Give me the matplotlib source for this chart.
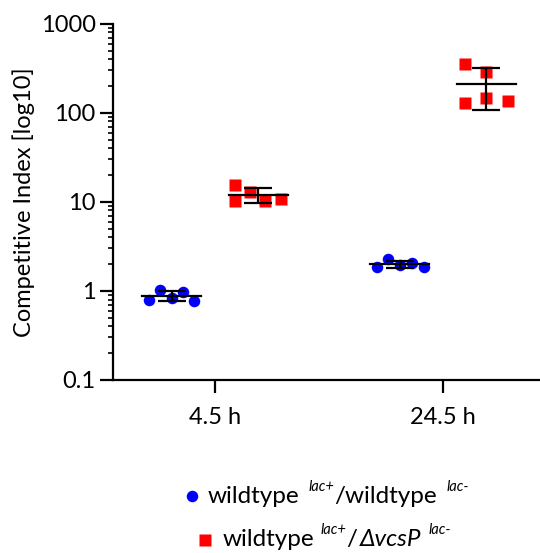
import matplotlib
matplotlib.use("Agg")
import matplotlib.pyplot as plt
import numpy as np
from matplotlib.lines import Line2D

plt.rcParams['font.family'] = ['Lato', 'DejaVu Sans']

# ---- data ----
categories = ["4.5 h", "24.5 h"]
wt_wt = [
    [0.79, 1.03, 0.83, 0.97, 0.77],
    [1.86, 2.29, 1.96, 2.06, 1.86],
]
wt_vcsp = [
    [15.5, 10.3, 13.0, 10.3, 10.8],
    [355, 130, 289, 147, 137],
]
ytick_vals = [0.1, 1, 10, 100, 1000]
ytick_labels = ["0.1", "1", "10", "100", "1000"]
# legend pieces: (text, is_superscript, italic)
legend_wt = [("wildtype", False, False), ("lac+", True, True), ("/wildtype", False, False),
             ("lac-", True, True)]
legend_vc = [("wildtype", False, False), ("lac+", True, True), ("/", False, False),
             ("\u0394vcsP", False, True), ("lac-", True, True)]

# ---- layout / style ----
group_off = 0.19
jitter_wt = [[-0.10, -0.05, 0.0, 0.05, 0.10], [-0.10, -0.05, 0.0, 0.055, 0.105]]
jitter_vc = [[-0.10, -0.10, -0.035, 0.03, 0.10], [-0.095, -0.095, 0.0, 0.0, 0.095]]
gaps_wt = [0, 9, 0, 9]
gaps_vc = [0, 6, 0, 2, 8]

W, H = 540, 553
fig = plt.figure(figsize=(W / 100, H / 100), dpi=100)
ax = fig.add_axes([0.209, 0.313, 0.791, 0.644])

xc = np.arange(len(categories))
for i in xc:
    xw = i - group_off + np.array(jitter_wt[i])
    ax.plot(xw, wt_wt[i], 'o', color='#0000ff', ms=8.3, mec='none', zorder=2)
    xv = i + group_off + np.array(jitter_vc[i])
    ax.plot(xv, wt_vcsp[i], 's', color='#ff0000', ms=8, mec='none', zorder=2)

for i in xc:
    for vals, sgn in ((wt_wt[i], -1), (wt_vcsp[i], 1)):
        m = np.mean(vals)
        sd = np.std(vals, ddof=1)
        xm = i + sgn * group_off
        ax.errorbar([xm], [m], yerr=[[sd], [sd]], fmt='none', ecolor='black',
                    elinewidth=1.6, capsize=10, capthick=1.6, zorder=3)
        ax.plot([xm - 0.13, xm + 0.13], [m, m], color='black', lw=1.6, zorder=3)

ax.set_yscale('log')
ax.set_ylim(0.1, 1000)
ax.set_xlim(-0.447, 1.425)
ax.set_yticks(ytick_vals)
ax.set_yticklabels(ytick_labels)
ax.set_xticks(xc)
ax.set_xticklabels(categories)
for s in ['top', 'right']:
    ax.spines[s].set_visible(False)
for s in ['left', 'bottom']:
    ax.spines[s].set_linewidth(1.6)
ax.tick_params(axis='y', which='major', length=9.4, width=1.6, labelsize=17, pad=3)
ax.tick_params(axis='y', which='minor', length=3.6, width=1.2)
ax.tick_params(axis='x', which='major', length=9.4, width=1.6, labelsize=17, pad=10)
ax.set_ylabel("Competitive Index [log10]", fontsize=17)
ax.yaxis.set_label_coords(-0.182, 0.5)

# legend drawn piece by piece (pixel coordinates from top-left)
renderer = fig.canvas.get_renderer()


def draw_pieces(pieces, gaps, x0, baseline):
    x = x0
    for (txt, sup, ital), g in zip(pieces, gaps):
        x += g
        size = 10.5 if sup else 17.5
        y = baseline - (12 if sup else 0)
        t = fig.text(x / W, 1 - y / H, txt, fontsize=size, va='baseline', ha='left',
                     style='italic' if ital else 'normal')
        x = t.get_window_extent(renderer).x1


fig.add_artist(Line2D([192 / W], [1 - 496 / H], marker='o', color='#0000ff', ms=8.3,
                      mec='none', ls='none', transform=fig.transFigure))
draw_pieces(legend_wt, gaps_wt, 208, 503)
fig.add_artist(Line2D([205 / W], [1 - 540 / H], marker='s', color='#ff0000', ms=8,
                      mec='none', ls='none', transform=fig.transFigure))
draw_pieces(legend_vc, gaps_vc, 223, 546)

fig.savefig("out.png", dpi=100)
